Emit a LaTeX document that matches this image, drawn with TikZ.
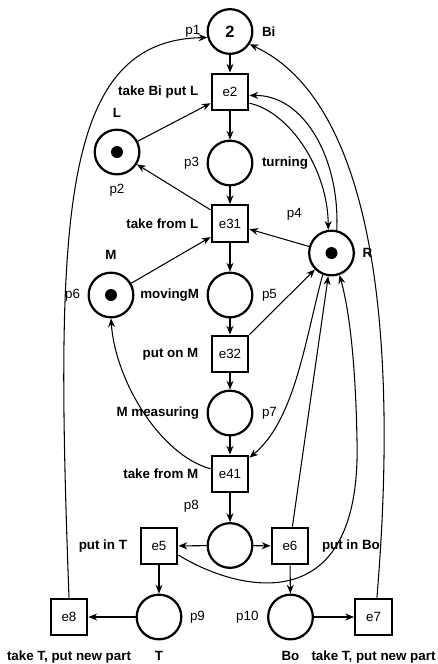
\documentclass[tikz,border=0pt]{standalone}
\usepackage{fontspec}
\setmainfont{Liberation Sans}
\usetikzlibrary{arrows.meta,positioning}

\begin{document}
\begin{tikzpicture}[
    x=0.03cm, y=-0.03cm,
    every node/.style={font=\fontsize{11.4}{13}\selectfont},
    place/.style={draw, circle, line width=1.9pt, minimum size=1.34cm, inner sep=0pt},
    trans/.style={draw, rectangle, line width=1.9pt, minimum size=1.1cm, inner sep=0pt},
    lbl/.style={inner sep=0pt},
    desc/.style={inner sep=0pt, font=\fontsize{11.4}{13}\selectfont\bfseries},
    arc/.style={-{Stealth[length=7.5pt,width=6pt]}, line width=0.9pt}
]
    \useasboundingbox (0,0) rectangle (437,664);

    \node[place, font=\fontsize{14}{16}\selectfont\bfseries] (p1) at (230,31.5) {2};
    \node[trans] (e2) at (230,92) {e2};
    \node[place] (p2) at (117,152) {};
    \node[place] (p3) at (230,163) {};
    \node[trans] (e31) at (230,223.5) {e31};
    \node[place] (p4) at (331.5,253) {};
    \node[place] (p6) at (111,295) {};
    \node[place] (p5) at (230,295) {};
    \node[trans] (e32) at (230,354) {e32};
    \node[place] (p7) at (230,413) {};
    \node[trans] (e41) at (230,474) {e41};
    \node[place] (p8) at (230,545.5) {};
    \node[trans] (e5) at (159,546) {e5};
    \node[trans] (e6) at (290,546) {e6};
    \node[trans] (e8) at (69,617) {e8};
    \node[place] (p9) at (159,617) {};
    \node[place] (p10) at (290.5,617) {};
    \node[trans] (e7) at (373.5,617) {e7};

    \fill (p2) circle [radius=0.18cm];
    \fill (p4) circle [radius=0.18cm];
    \fill (p6) circle [radius=0.18cm];

    \node[lbl, left=0.18cm of p1] (p1n) {p1};
    \node[desc, right=0.25cm of p1] (p1d) {Bi};
    \node[desc, left=0.36cm of e2] (e2d) {take Bi put L};
    \node[desc, above=0.33cm of p2] (p2d) {L};
    \node[lbl, below=0.25cm of p2] (p2n) {p2};
    \node[lbl, left=0.22cm of p3] (p3n) {p3};
    \node[desc, right=0.25cm of p3] (p3d) {turning};
    \node[desc, left=0.36cm of e31] (e31d) {take from L};
    \node[lbl, above left=0.49cm and 0.39cm of p4] (p4n) {p4};
    \node[desc, right=0.22cm of p4] (p4d) {R};
    \node[desc, above=0.34cm of p6] (p6d) {M};
    \node[lbl, left=0.22cm of p6] (p6n) {p6};
    \node[desc, left=0.22cm of p5] (p5d) {movingM};
    \node[lbl, right=0.25cm of p5] (p5n) {p5};
    \node[desc, left=0.36cm of e32] (e32d) {put on M};
    \node[desc, left=0.22cm of p7] (p7d) {M measuring};
    \node[lbl, right=0.25cm of p7] (p7n) {p7};
    \node[desc, left=0.36cm of e41] (e41d) {take from M};
    \node[lbl, above left=0.5cm and 0.43cm of p8] (p8n) {p8};
    \node[desc, left=0.37cm of e5] (e5d) {put in T};
    \node[desc, right=0.37cm of e6] (e6d) {put in Bo};
    \node[lbl, right=0.22cm of p9] (p9n) {p9};
    \node[desc, below=0.32cm of p9] (p9d) {T};
    \node[lbl, left=0.25cm of p10] (p10n) {p10};
    \node[desc, below=0.32cm of p10] (p10d) {Bo};
    \node[desc, below=0.43cm of e8] (e8d) {take T, put new part};
    \node[desc, below=0.43cm of e7] (e7d) {take T, put new part};

    \draw[arc] (p1) -- (e2);
    \draw[arc] (e2) -- (p3);
    \draw[arc] (p3) -- (e31);
    \draw[arc] (e31) -- (p5);
    \draw[arc] (p5) -- (e32);
    \draw[arc] (e32) -- (p7);
    \draw[arc] (p7) -- (e41);
    \draw[arc] (e41) -- (p8);
    \draw[arc] (p8) -- (e5);
    \draw[arc] (p8) -- (e6);
    \draw[arc] (e5) -- (p9);
    \draw[arc] (e6) -- (p10);
    \draw[arc] (p9) -- (e8);
    \draw[arc] (p10) -- (e7);
    \draw[arc] (p2) -- (e2.210);
    \draw[arc] (e31.145) -- (p2);
    \draw[arc] (p6) -- (e31.215);
    \draw[arc] (p4) -- (e31);
    \draw[arc] (e32.north east) -- (p4);
    \draw[arc] (e2.-30) .. controls (290,112) and (328,170) .. (p4.98);
    \draw[arc] (p4.77) .. controls (340,160) and (305,95) .. (e2.-10);
    \draw[arc] (e41.165) .. controls (160,455) and (115,380) .. (p6.-90);
    \draw[arc] (p4.-112) .. controls (305,340) and (295,420) .. (e41.40);
    \draw[arc] (e6.83) -- (p4.-98);
    \draw[arc] (e5.-25) .. controls (235,590) and (362,625) .. (357,440)
        .. controls (356,385) and (352,320) .. (p4.-70);
    \draw[arc] (e8.north) .. controls (55,220) and (60,40) .. (p1.195);
    \draw[arc] (e7.80) .. controls (400,320) and (370,100) .. (p1.-33);
\end{tikzpicture}
\end{document}
